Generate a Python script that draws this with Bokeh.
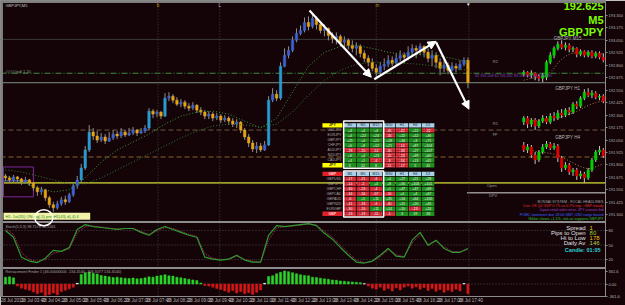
from bokeh.plotting import figure
from bokeh.models import Range1d, FixedTicker, Arrow, NormalHead, ColumnDataSource
from bokeh.core.properties import value
from bokeh.embed import file_html
from bokeh.resources import INLINE

# ---------------- data ----------------
symbol = "GBPJPY"
timeframe = "M5"
bid = 192.625
first_open = 191.69
close = [191.67, 191.65, 191.68, 191.66, 191.63, 191.65, 191.62, 191.57, 191.53, 191.55,
         191.47, 191.40, 191.37, 191.41, 191.45, 191.43, 191.50, 191.59, 191.65, 191.77,
         191.95, 192.13, 192.09, 192.05, 192.08, 192.04, 192.07, 192.11, 192.09, 192.13,
         192.10, 192.12, 192.15, 192.12, 192.14, 192.17, 192.34, 192.31, 192.33, 192.29,
         192.47, 192.49, 192.45, 192.41, 192.43, 192.39, 192.37, 192.40, 192.35, 192.33,
         192.29, 192.31, 192.27, 192.29, 192.25, 192.27, 192.24, 192.21, 192.23, 192.15,
         192.08, 192.02, 191.96, 191.99, 191.95, 192.00, 192.45, 192.51, 192.47, 192.79,
         192.90, 192.95, 193.05, 193.12, 193.15, 193.23, 193.19, 193.27, 193.21, 193.15,
         193.17, 193.10, 193.07, 193.09, 193.03, 193.05, 193.00, 192.97, 192.99, 192.92,
         192.87, 192.83, 192.77, 192.73, 192.79, 192.81, 192.85, 192.82, 192.87, 192.90,
         192.88, 192.93, 192.97, 192.95, 192.99, 192.93, 192.87, 192.90, 192.83, 192.77,
         192.80, 192.75, 192.79, 192.77, 192.81, 192.85, 192.625]
high = [191.71, 191.69, 191.70, 191.69, 191.67, 191.68, 191.66, 191.63, 191.59, 191.58,
        191.56, 191.49, 191.43, 191.44, 191.48, 191.49, 191.52, 191.62, 191.69, 191.81,
        191.99, 192.20, 192.17, 192.14, 192.12, 192.11, 192.13, 192.15, 192.14, 192.17,
        192.15, 192.17, 192.18, 192.16, 192.17, 192.20, 192.37, 192.36, 192.35, 192.34,
        192.52, 192.53, 192.51, 192.48, 192.46, 192.45, 192.42, 192.43, 192.41, 192.38,
        192.35, 192.34, 192.33, 192.32, 192.31, 192.30, 192.29, 192.27, 192.26, 192.24,
        192.17, 192.11, 192.05, 192.03, 192.02, 192.04, 192.49, 192.57, 192.55, 192.83,
        192.97, 192.99, 193.09, 193.17, 193.20, 193.28, 193.29, 193.31, 193.29, 193.23,
        193.21, 193.18, 193.13, 193.13, 193.11, 193.09, 193.07, 193.05, 193.03, 193.01,
        192.95, 192.90, 192.87, 192.81, 192.83, 192.87, 192.90, 192.89, 192.92, 192.95,
        192.93, 192.99, 193.01, 193.00, 193.02, 193.00, 192.97, 192.95, 192.93, 192.87,
        192.85, 192.83, 192.83, 192.82, 192.85, 192.88, 192.88]
low = [191.64, 191.62, 191.63, 191.62, 191.60, 191.61, 191.59, 191.54, 191.49, 191.50,
       191.44, 191.37, 191.33, 191.35, 191.39, 191.40, 191.42, 191.48, 191.56, 191.63,
       191.75, 191.93, 192.05, 192.02, 192.03, 192.01, 192.03, 192.05, 192.06, 192.07,
       192.08, 192.09, 192.10, 192.09, 192.11, 192.12, 192.15, 192.27, 192.28, 192.26,
       192.28, 192.44, 192.42, 192.39, 192.38, 192.36, 192.34, 192.35, 192.32, 192.30,
       192.26, 192.26, 192.24, 192.25, 192.22, 192.23, 192.20, 192.18, 192.17, 192.12,
       192.05, 191.98, 191.93, 191.92, 191.93, 191.94, 191.99, 192.43, 192.44, 192.45,
       192.78, 192.87, 192.93, 193.03, 193.10, 193.13, 193.15, 193.17, 193.16, 193.12,
       193.09, 193.05, 193.02, 193.01, 192.99, 192.97, 192.96, 192.93, 192.90, 192.88,
       192.83, 192.79, 192.74, 192.68, 192.71, 192.75, 192.78, 192.79, 192.80, 192.84,
       192.82, 192.85, 192.89, 192.87, 192.90, 192.88, 192.83, 192.79, 192.77, 192.70,
       192.73, 192.71, 192.74, 192.73, 192.75, 192.79, 192.57]
# moving averages, read every 4th candle
ma_fast = [191.69, 191.63, 191.57, 191.53, 191.55, 191.67, 191.83, 191.95, 192.03, 192.11,
           192.21, 192.29, 192.33, 192.34, 192.31, 192.24, 192.17, 192.27, 192.53, 192.79,
           192.93, 192.99, 193.00, 192.97, 192.93, 192.91, 192.91, 192.90, 192.87, 192.83]
ma_slow = [191.75, 191.73, 191.69, 191.65, 191.61, 191.61, 191.67, 191.75, 191.83, 191.91,
           191.99, 192.07, 192.14, 192.19, 192.21, 192.20, 192.18, 192.21, 192.33, 192.50,
           192.65, 192.75, 192.81, 192.83, 192.83, 192.82, 192.81, 192.79, 192.77, 192.75]
# stochastic, read every 2nd candle
stoch_main = [80, 66, 25, 17, 14, 23, 39, 37, 45, 82, 92, 88, 86, 84, 82, 84, 84, 76, 70, 82,
              88, 82, 76, 70, 66, 25, 21, 19, 21, 29, 19, 15, 15, 70, 90, 88, 90, 92, 94, 90,
              74, 62, 45, 29, 15, 13, 17, 29, 43, 27, 25, 60, 76, 49, 60, 43, 35, 35, 43]
stoch_signal = [84, 72, 35, 20, 16, 20, 33, 37, 42, 75, 88, 89, 87, 85, 83, 84, 84, 78, 72, 79,
                86, 84, 78, 72, 68, 32, 23, 20, 21, 27, 21, 17, 15, 60, 85, 88, 89, 91, 93, 91,
                78, 66, 50, 34, 19, 14, 16, 26, 40, 30, 26, 54, 72, 52, 58, 46, 37, 36, 41]
stoch_levels = [20, 50, 80]
retrace = [200, 210, 180, -60, -120, -150, -180, -230, -280, -240,
           -330, -300, -260, -310, -220, -180, -140, -90, 20, 280,
           330, 350, 310, 290, 250, 230, 210, 190, 200, 180,
           170, 160, 175, 150, 160, 180, 210, 200, 230, 250,
           270, 240, 230, 200, 180, 160, 140, 120, 100, 30,
           -40, -60, -90, -130, -160, -200, -240, -190, -260, -220,
           -280, -250, -300, -240, -170, 20, 220, 240, 300, 340,
           380, 360, 330, 300, 270, 250, 240, 200, 190, 170,
           150, 140, 120, 110, 90, 80, 70, 60, 50, 40,
           10, -60, -120, -150, -90, -180, -130, -200, -110, -170,
           -90, -60, -120, -80, -150, -100, -190, -130, -210, -160,
           -240, -180, -220, -150, -200, 15, -280]
retrace_ticks = [361.6, 0.0, -361.6]

level_prices = [193.06, 192.72, 192.625, 192.15, 191.88, 191.62]

price_ticks = [191.300, 191.425, 191.550, 191.675, 191.800, 191.925, 192.050, 192.175, 192.300,
               192.425, 192.550, 192.675, 192.800, 192.925, 193.050, 193.175, 193.300]
time_labels = ["28 Jul 2015", "28 Jul 03:40", "28 Jul 04:20", "28 Jul 05:00", "28 Jul 05:40",
               "28 Jul 06:20", "28 Jul 07:00", "28 Jul 07:40", "28 Jul 08:20", "28 Jul 09:00",
               "28 Jul 09:40", "28 Jul 10:20", "28 Jul 11:00", "28 Jul 11:40", "28 Jul 12:20",
               "28 Jul 13:00", "28 Jul 13:40", "28 Jul 14:20", "28 Jul 15:00", "28 Jul 15:40",
               "28 Jul 16:20", "28 Jul 17:00", "28 Jul 17:40"]

# hand-drawn arrows: (candle index, price) start -> end
arrow_path = [(76.25, 193.35, 91.75, 192.68),
              (92.5, 192.66, 108.0, 193.04),
              (108.0, 193.03, 116.25, 192.36)]

# mini charts
m15_open = [191.80, 191.90, 191.75, 191.85, 191.70, 191.60, 191.65, 192.40, 192.75, 193.10, 193.30,
            193.15, 193.25, 193.05, 193.10, 192.80, 192.95, 192.75, 192.90, 192.70, 192.85, 192.65]
m15_close = [191.90, 191.75, 191.85, 191.70, 191.60, 191.75, 192.40, 192.75, 193.10, 193.30, 193.15,
             193.25, 193.05, 193.10, 192.80, 192.95, 192.75, 192.90, 192.70, 192.85, 192.65, 192.50]
m15_high = [192.00, 191.95, 192.00, 191.90, 191.80, 191.85, 192.50, 192.90, 193.20, 193.45, 193.50,
            193.40, 193.35, 193.20, 193.15, 193.05, 193.00, 193.00, 193.00, 192.95, 192.95, 192.85]
m15_low = [191.70, 191.65, 191.60, 191.50, 191.45, 191.40, 191.50, 192.30, 192.60, 193.00, 193.05,
           193.00, 192.90, 192.90, 192.65, 192.70, 192.65, 192.65, 192.60, 192.60, 192.55, 192.40]
m15_ma = [191.50, 191.55, 191.60, 191.62, 191.64, 191.66, 191.75, 191.90, 192.10, 192.35, 192.55,
          192.70, 192.80, 192.85, 192.88, 192.88, 192.88, 192.87, 192.86, 192.85, 192.83, 192.80]
h1_open = [192.17, 192.33, 192.09, 192.25, 192.01, 192.21, 192.33, 192.17, 192.41, 192.33, 192.53,
           192.45, 192.65, 192.57, 192.89, 192.81, 193.13, 193.37, 193.25, 193.33, 193.17, 193.21]
h1_close = [192.33, 192.09, 192.25, 192.01, 192.21, 192.33, 192.17, 192.41, 192.33, 192.53, 192.45,
            192.65, 192.57, 192.89, 192.81, 193.13, 193.37, 193.25, 193.33, 193.17, 193.21, 193.01]
h1_high = [192.41, 192.41, 192.33, 192.33, 192.29, 192.45, 192.41, 192.53, 192.57, 192.65, 192.69,
           192.73, 192.77, 192.97, 193.01, 193.21, 193.49, 193.53, 193.45, 193.41, 193.29, 193.29]
h1_low = [192.05, 191.93, 191.97, 191.85, 191.93, 192.13, 192.09, 192.09, 192.21, 192.25, 192.33,
          192.37, 192.45, 192.49, 192.69, 192.73, 193.05, 193.17, 193.13, 193.09, 193.05, 192.93]
h1_ma = [192.20, 192.21, 192.22, 192.22, 192.23, 192.24, 192.25, 192.27, 192.30, 192.34, 192.38,
         192.43, 192.48, 192.54, 192.60, 192.67, 192.76, 192.84, 192.90, 192.95, 192.99, 193.02]
h4_open = [193.30, 193.00, 193.18, 192.70, 192.40, 192.88, 193.18, 193.36, 193.12, 193.24, 192.52,
           191.92, 192.10, 191.68, 191.80, 191.44, 191.56, 191.32, 191.80, 192.40, 192.88, 193.00]
h4_close = [193.00, 193.18, 192.70, 192.40, 192.88, 193.18, 193.36, 193.12, 193.24, 192.52, 191.92,
            192.10, 191.68, 191.80, 191.44, 191.56, 191.32, 191.80, 192.40, 192.88, 193.00, 192.64]
h4_high = [193.48, 193.36, 193.30, 192.88, 193.00, 193.36, 193.54, 193.48, 193.42, 193.36, 192.64,
           192.28, 192.22, 191.92, 191.92, 191.74, 191.68, 191.92, 192.52, 193.00, 193.24, 193.12]
h4_low = [192.88, 192.82, 192.52, 192.16, 192.28, 192.76, 193.06, 193.00, 193.00, 192.28, 191.68,
          191.80, 191.50, 191.44, 191.20, 191.26, 191.02, 191.20, 191.68, 192.28, 192.70, 192.52]
h4_ma = [193.05, 193.02, 192.98, 192.93, 192.88, 192.85, 192.83, 192.80, 192.75, 192.68, 192.58,
         192.46, 192.34, 192.22, 192.10, 192.00, 191.92, 191.88, 191.90, 191.98, 192.08, 192.18]

# currency strength tables
tf_labels = ["M1", "M5", "M15", "M30", "H1", "H4", "D1"]
jpy_pairs = ["USDJPY", "EURJPY", "GBPJPY", "CHFJPY", "AUDJPY", "NZDJPY", "CADJPY"]
jpy_vals = [[4, 4, 4, -45, -42, 12, -32],
            [4, 22, 24, -34, 22, 12, 46],
            [21, 4, 21, 18, 34, 3, 71],
            [6, 8, 12, 21, -14, 87, 104],
            [-28, -20, -14, -40, -38, 27, 107],
            [6, 4, 23, -15, -23, 49, 60],
            [4, 1, -6, -8, -56, 13, 61]]
jpy_total = [5, 12, 8, -11, -17, 5, 41]
gbp_pairs = ["GBPUSD", "GBPJPY", "GBPCHF", "GBPCAD", "GBPAUD", "GBPNZD", "EURGBP"]
gbp_vals = [[-27, -21, -6, 4, 27, 21, 28],
            [-14, -2, 4, 8, 56, 103, 101],
            [-30, -23, -4, 1, 47, 47, 69],
            [-34, -34, -37, -16, 4, 4, 67],
            [-6, 5, 11, 35, 54, 64, 105],
            [-41, -33, -6, -40, 11, 20, 45],
            [-30, -20, 11, 14, 10, -23, 24]]
gbp_total = [-23, -19, -11, -1, 3, 19, 33]

stat_labels = ["Spread", "Pips to Open", "Hi to Low", "Daily Av"]
stat_values = ["1", "80", "178", "146"]
candle_timer = "Candle: 01:05"
news_lines = ["BONSAI SYSTEM - FOCAL HEADLINES",
              "Live: UK Q2 GDP 0.7% vs 0.7% exp - GBP steady",
              "Japan retail sales miss, JPY crosses bid",
              "FOMC statement due 18:00 GMT, USD range bound",
              "Nikkei closes +1.1%, risk-on supports GBPJPY"]

# ---------------- layout helpers ----------------
BG = "#140408"
FX0, FX1, FY0, FY1 = 0, 607, 0, 297
FONT = value("Liberation Sans")


def yrange(px_a, v_a, px_b, v_b):
    s = (v_a - v_b) / (px_b - px_a)
    return Range1d(v_b - (FY1 - px_b) * s, v_a + (px_a - FY0) * s)


def xrange(px0, pitch):
    return Range1d((FX0 - px0) / pitch, (FX1 - px0) / pitch)


main_y = yrange(3, 193.42, 297, 190.48)
osc_r = yrange(230.7, 80, 260, 20)
hist_r = yrange(272, 361.6, 284.5, 0)

p = figure(width=625, height=305, x_range=xrange(5, 4), y_range=main_y,
           y_axis_location="right", output_backend="svg", toolbar_location=None,
           background_fill_color=BG, border_fill_color=BG,
           min_border_left=0, min_border_top=0, min_border_right=2, min_border_bottom=0,
           outline_line_color="#8c8c8c")
p.extra_x_ranges = {"px": Range1d(FX0, FX1), "mx": xrange(525, 3.8)}
p.extra_y_ranges = {"py": Range1d(FY1, FY0), "osc": osc_r, "hist": hist_r,
                    "m15": yrange(42, 193.40, 82, 191.40),
                    "h1": yrange(90, 193.45, 130, 191.85),
                    "h4": yrange(140, 193.60, 180, 191.20)}
p.grid.visible = False


def txt(x, y, s, color, size, align="left", baseline="middle", style="normal"):
    p.text(x=[x], y=[y], text=[s], x_range_name="px", y_range_name="py",
           text_color=color, text_font_size=value(f"{size}px"), text_align=align,
           text_baseline=baseline, text_font=FONT, text_font_style=style)


# ---------------- axes ----------------
def to_main(v, r):
    return round(main_y.start + (v - r.start) / (r.end - r.start) * (main_y.end - main_y.start), 6)


ticks, overrides = [], {}
for t in price_ticks:
    ticks.append(t)
    overrides[t] = f"{t:.3f}"
for lv in stoch_levels:
    t = to_main(lv, osc_r)
    ticks.append(t)
    overrides[t] = str(lv)
for lv in retrace_ticks:
    t = to_main(lv, hist_r)
    ticks.append(t)
    overrides[t] = "0.00" if lv == 0 else f"{lv:.1f}"
ya = p.yaxis[0]
ya.ticker = FixedTicker(ticks=ticks)
ya.major_label_overrides = overrides
ya.major_label_text_font_size = "4px"
ya.major_label_text_color = "#b4b4b4"
ya.major_label_text_font = "Liberation Sans"
ya.major_tick_out = 2
ya.major_tick_in = 0
ya.minor_tick_out = 0
ya.minor_tick_in = 0
ya.major_tick_line_color = "#8c8c8c"
ya.axis_line_color = None
ya.major_label_standoff = 1

xt = [round(1.75 + 5.225 * k, 3) for k in range(len(time_labels))]
xa = p.xaxis[0]
xa.ticker = FixedTicker(ticks=xt)
xa.major_label_overrides = {t: lab for t, lab in zip(xt, time_labels)}
xa.major_label_text_font_size = "4.5px"
xa.major_label_text_color = "#b4b4b4"
xa.major_label_text_font = "Liberation Sans"
xa.major_tick_out = 0
xa.major_tick_in = 0
xa.minor_tick_out = 0
xa.minor_tick_in = 0
xa.axis_line_color = None
xa.major_label_standoff = 1

# ---------------- background lines ----------------
lvl_colors = ["#3a3a3a", "#3e8a3e", "#7f8f7f", "#6e5a3a", "#8a6428", "#a0a028"]
lvl_dash = ["solid", "6 2 1 2", "solid", "5 3", "5 3", "solid"]
lvl_width = [1, 1, 1, 1, 1, 1.6]
for lp, c, d, w in zip(level_prices, lvl_colors, lvl_dash, lvl_width):
    p.segment(x0=[FX0], x1=[FX1], y0=[lp], y1=[lp], x_range_name="px",
              line_color=c, line_dash=d, line_width=w)
p.segment(x0=[468], x1=[FX1], y0=[193], y1=[193], x_range_name="px", y_range_name="py",
          line_color="#d8d8d8", line_width=1)
# session separators
p.segment(x0=[158, 220, 377, 470], x1=[158, 220, 377, 470], y0=[3] * 4, y1=[FY1] * 4,
          x_range_name="px", y_range_name="py", line_color="#3c4a3c", line_dash="1 2")
# left purple box
p.quad(left=[3], right=[33], top=[167], bottom=[197], x_range_name="px", y_range_name="py",
       fill_color=None, line_color="#7a2a9a", line_width=1)
p.segment(x0=[3], x1=[30], y0=[181], y1=[181], x_range_name="px", y_range_name="py",
          line_color="#6a70e0", line_width=1)

# panel separators
p.segment(x0=[FX0, FX0], x1=[FX1, FX1], y0=[222.3, 268.5], y1=[222.3, 268.5],
          x_range_name="px", y_range_name="py", line_color="#8c8c8c", line_width=2)

# ---------------- main candles ----------------
idx = list(range(len(close)))
opens = [first_open] + close[:-1]
hi = [max(h, o, c) for h, o, c in zip(high, opens, close)]
lo = [min(l, o, c) for l, o, c in zip(low, opens, close)]
cols = []
for o, c in zip(opens, close):
    if c >= o:
        cols.append("#2a9ad0" if c - o > 0.12 else "#3d62d0")
    else:
        cols.append("#e6a514")
src = ColumnDataSource(dict(x=idx, h=hi, l=lo, top=[max(o, c) for o, c in zip(opens, close)],
                            bot=[min(o, c) for o, c in zip(opens, close)], col=cols))
p.segment(x0="x", y0="h", x1="x", y1="l", source=src, line_color="#8e8e8e", line_width=1)
p.vbar(x="x", top="top", bottom="bot", width=0.62, source=src, fill_color="col", line_color="col",
       line_width=0.5)

ma_x = [4 * k for k in range(len(ma_fast))]
p.line(ma_x, ma_fast, line_color="#3c9a3c", line_dash="1 2", line_width=1)
p.line(ma_x, ma_slow, line_color="#2e7a2e", line_dash="1 2", line_width=1)

# ---------------- oscillator ----------------
for lv in stoch_levels:
    p.segment(x0=[FX0], x1=[FX1], y0=[lv], y1=[lv], x_range_name="px", y_range_name="osc",
              line_color="#4a4a4a", line_dash="1 2")
sx = [2 * k for k in range(len(stoch_main))]
p.line(sx, stoch_signal, y_range_name="osc", line_color="#b0306e", line_dash="1 1", line_width=1)
p.line(sx, stoch_main, y_range_name="osc", line_color="#2e9a2e", line_width=1.2)

# ---------------- retracement histogram ----------------
p.segment(x0=[FX0], x1=[FX1], y0=[0], y1=[0], x_range_name="px", y_range_name="hist",
          line_color="#4a4a4a", line_dash="1 2")
hcol = ["#2ad42a" if v >= 30 else ("#d81818" if v <= -30 else "#ffffff") for v in retrace]
p.vbar(x=idx, top=retrace, bottom=0, width=0.55, y_range_name="hist",
       fill_color=hcol, line_color=hcol, line_width=0.5)

# ---------------- mini charts ----------------
for name, o_, c_, h_, l_, ma_, rn, ly in [("GBPJPY M15", m15_open, m15_close, m15_high, m15_low, m15_ma, "m15", 38),
                                          ("GBPJPY H1", h1_open, h1_close, h1_high, h1_low, h1_ma, "h1", 88),
                                          ("GBPJPY H4", h4_open, h4_close, h4_high, h4_low, h4_ma, "h4", 137)]:
    mx = list(range(len(o_)))
    mc = ["#00d000" if c >= o else "#e00000" for o, c in zip(o_, c_)]
    p.line(mx, ma_, x_range_name="mx", y_range_name=rn, line_color="#b08040", line_dash="1 2")
    p.segment(x0=mx, x1=mx, y0=h_, y1=l_, x_range_name="mx", y_range_name=rn,
              line_color="#c8c8c8", line_width=1)
    p.vbar(x=mx, top=[max(a, b) for a, b in zip(o_, c_)], bottom=[min(a, b) for a, b in zip(o_, c_)],
           width=0.65, x_range_name="mx", y_range_name=rn, fill_color=mc, line_color=mc, line_width=0.5)
    txt(569, ly, name, "#b8b8b8", 4.5, align="center")

# ---------------- tables ----------------
def draw_table(y0, name, name_fill, name_text, pairs, vals, totals):
    cx = [350.5 + 13.1 * c for c in range(7)]
    p.rect(x=cx, y=[y0] * 7, width=12.4, height=4.4, x_range_name="px", y_range_name="py",
           fill_color="#a9d0e6", line_color=None)
    p.text(x=cx, y=[y0] * 7, text=tf_labels, x_range_name="px", y_range_name="py",
           text_color="#1a2a3a", text_font_size=value("3.5px"), text_align="center",
           text_baseline="middle", text_font=FONT)
    yf = y0 + 40
    p.rect(x=[333, 333], y=[y0, yf], width=20, height=4.4, x_range_name="px", y_range_name="py",
           fill_color=name_fill, line_color=None)
    p.text(x=[333, 333], y=[y0, yf], text=[name, name], x_range_name="px", y_range_name="py",
           text_color=name_text, text_font_size=value("3.5px"), text_align="center",
           text_baseline="middle", text_font=FONT, text_font_style="bold")
    p.text(x=[342] * 7, y=[y0 + 5 * (r + 1) for r in range(7)], text=pairs, x_range_name="px",
           y_range_name="py", text_color="#a8a8a8", text_font_size=value("3.5px"),
           text_align="right", text_baseline="middle", text_font=FONT)
    px_, py_, nx, ny = [], [], [], []
    tx, ty, tt = [], [], []
    for r, row in enumerate(vals + [totals]):
        yy = y0 + 5 * (r + 1)
        for c, v in enumerate(row):
            if v >= 0:
                px_.append(cx[c]); py_.append(yy)
            else:
                nx.append(cx[c]); ny.append(yy)
            tx.append(cx[c]); ty.append(yy)
            tt.append((f"+{v}" if v > 0 else str(v)) if r < 7 else str(v))
    p.rect(x=px_, y=py_, width=12.4, height=4.4, x_range_name="px", y_range_name="py",
           fill_color="#1f8f1f", line_color=None)
    p.rect(x=nx, y=ny, width=12.4, height=4.4, x_range_name="px", y_range_name="py",
           fill_color="#c8202c", line_color=None, hatch_pattern="dot", hatch_color="#ff9a9a",
           hatch_scale=2.5, hatch_alpha=0.7)
    p.text(x=tx, y=ty, text=tt, x_range_name="px", y_range_name="py", text_color="#f4f4f4",
           text_font_size=value("3.5px"), text_align="center", text_baseline="middle", text_font=FONT)


draw_table(125.3, "JPY", "#ffff00", "#202020", jpy_pairs, jpy_vals, jpy_total)
draw_table(174.0, "GBP", "#e0202a", "#ffd0d0", gbp_pairs, gbp_vals, gbp_total)
p.quad(left=[344.3, 344.3], right=[384.4, 384.4], top=[121, 171], bottom=[168.3, 217.3],
       x_range_name="px", y_range_name="py", fill_color=None, line_color="#ffffff", line_width=1.5)

# ---------------- texts ----------------
txt(5, 5, f"{symbol},{timeframe}", "#c8c8c8", 4)
txt(5, 71, "#####pdl 1.20", "#8aa08a", 4)
for s, x, y in [("b", 158, 5), ("m", 378, 5)]:
    txt(x, y, s, "#c8a000", 4.5, align="center")
txt(220, 5, "L", "#c8c8c8", 4.5, align="center")
txt(470, 4, "▾", "#ffffff", 5, align="center")
for s, x, y in [("R2", 494, 61), ("R1", 494, 123), ("pp", 494, 133), ("Open", 488, 186), ("DPV", 490, 196)]:
    txt(x, y, s, "#9a9a9a", 4)
txt(476, 76, "S1 192.558   S2 192.437   S3 192.301   S4 192.190", "#8a44c8", 3.6)

txt(605, 2, f"{bid:.3f}", "#7cfc00", 11, align="right", baseline="top", style="bold")
txt(605, 14, timeframe, "#7cfc00", 11, align="right", baseline="top", style="bold")
txt(605, 26, symbol, "#7cfc00", 11, align="right", baseline="top", style="bold")

news_colors = ["#a0a0a0", "#e03030", "#a040c0", "#4060ff", "#30c030"]
for k, (s, c) in enumerate(zip(news_lines, news_colors)):
    txt(605, 202 + 4.3 * k, s, c, 3.6, align="right")

stat_colors = ["#f0d000", "#9acd32", "#f0c000", "#b0d040"]
for k, (s, v, c) in enumerate(zip(stat_labels, stat_values, stat_colors)):
    txt(587, 228.5 + 5 * k, s, "#e0e0e0", 6, align="right")
    txt(591, 228.5 + 5 * k, v, c, 6)
txt(602, 250, candle_timer, "#30d0d0", 5.5, align="right", style="bold")

txt(5, 227, "Stoch(5,3,3) 38.7578 36.2061", "#a0a0a0", 3.8)
txt(5, 272, "Retracement Finder 1 (46.00000000 -134.4540 -106.3077 134.4540)", "#a0a0a0", 3.8)

# info bar + circle
p.quad(left=[3], right=[90], top=[213], bottom=[220], x_range_name="px", y_range_name="py",
       fill_color="#f2f2a8", line_color=None)
txt(5, 216.5, "H1: 1st(35) ON   sig(-5)   prevH1(43)   d(-4) 4", "#1a8a1a", 4)
p.ellipse(x=[43.5], y=[218], width=18, height=16, x_range_name="px", y_range_name="py",
          fill_color=None, line_color="#ffffff", line_width=1.5)

# window frame (grey edge at top and left)
p.quad(left=[FX0, FX0], right=[2.5, FX1], top=[FY0, FY0], bottom=[FY1, 2.5],
       x_range_name="px", y_range_name="py", fill_color="#7e7e7e", line_color=None)

# arrows
for x0, y0, x1, y1 in arrow_path:
    p.add_layout(Arrow(end=NormalHead(size=8, fill_color="#ffffff", line_color="#ffffff"),
                       x_start=x0, y_start=y0, x_end=x1, y_end=y1,
                       line_color="#ffffff", line_width=2.2))

open("out.html", "w").write(file_html(p, INLINE))
